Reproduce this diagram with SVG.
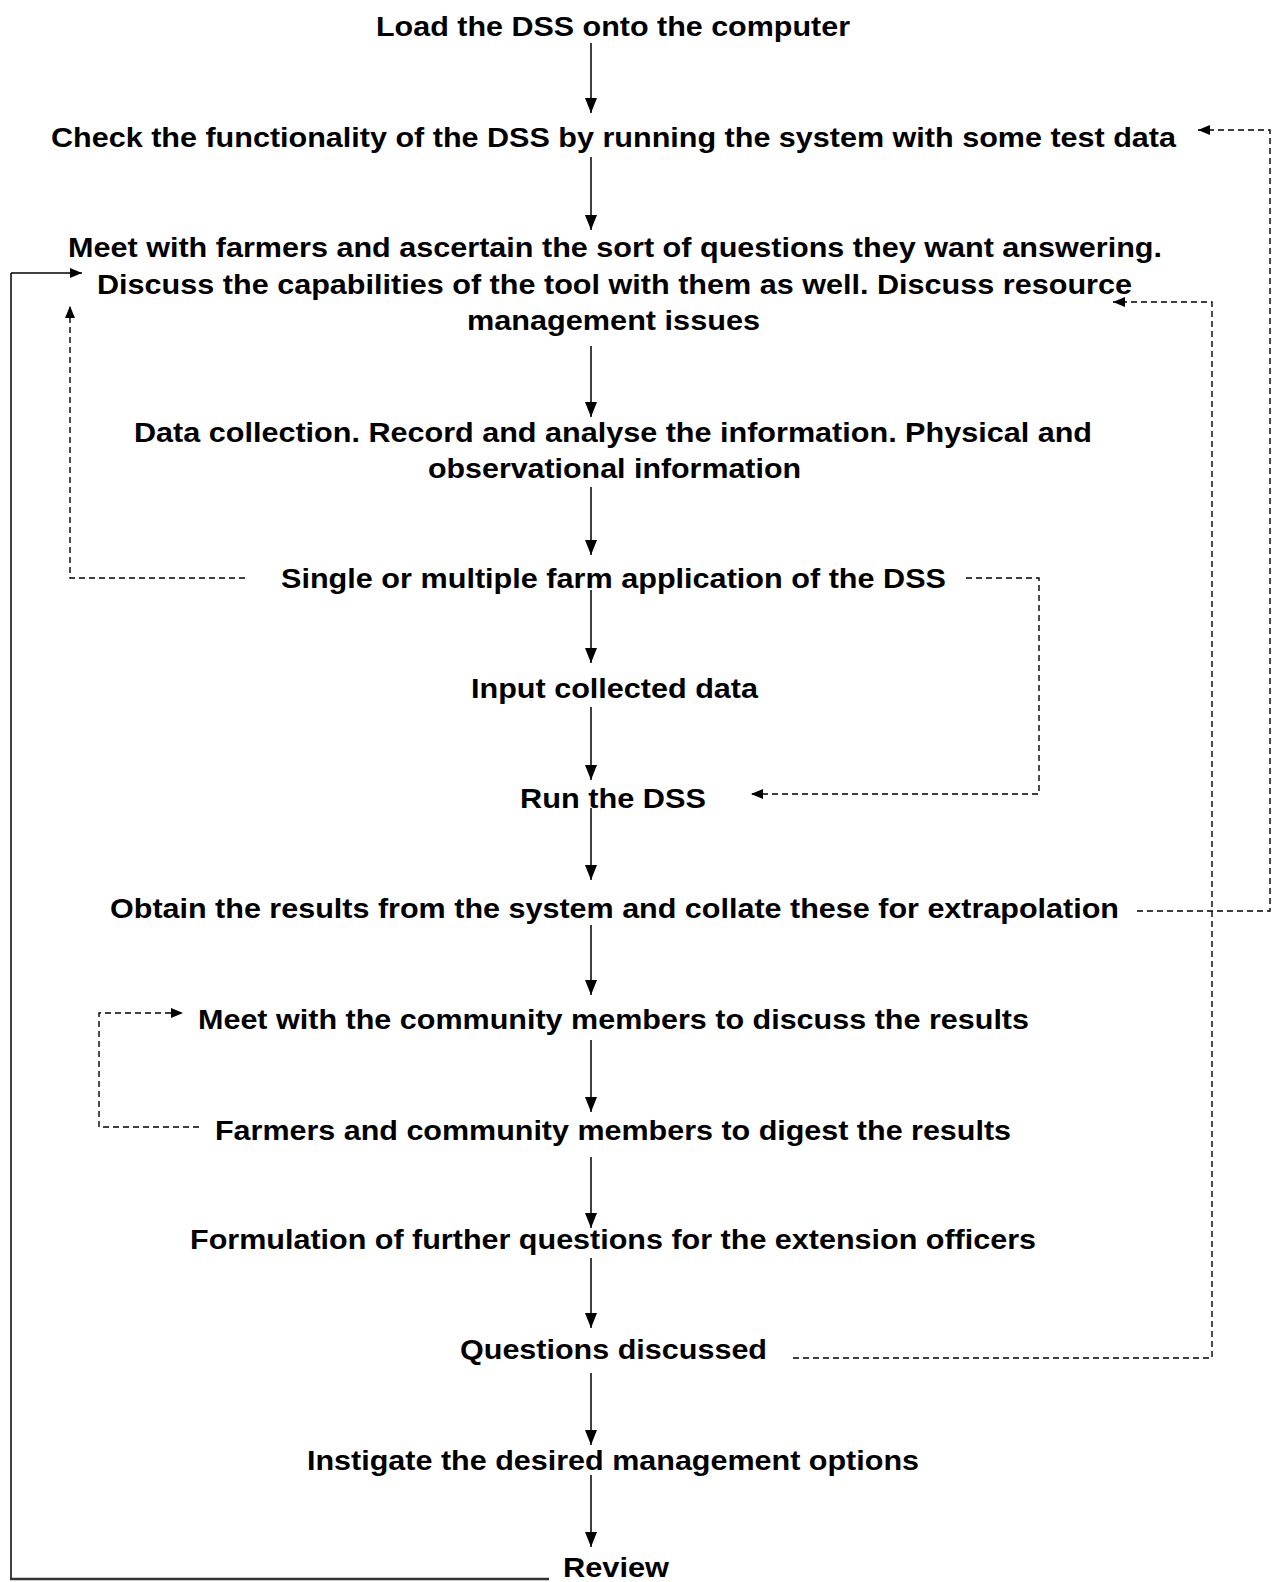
<svg xmlns="http://www.w3.org/2000/svg" width="1278" height="1582" viewBox="0 0 1278 1582">
<defs>
<style>
.t{font-family:"Liberation Sans",Arial,sans-serif;font-weight:bold;font-size:28px;fill:#000}
.s{fill:none;stroke:#000;stroke-width:1.5}
.d{fill:none;stroke:#000;stroke-width:1.4;stroke-dasharray:6,4}
</style>
<marker id="a" viewBox="0 0 15 12" markerWidth="15" markerHeight="12" refX="15" refY="6" orient="auto" markerUnits="userSpaceOnUse"><path d="M0,0 L15,6 L0,12 z" fill="#000"/></marker>
<marker id="b" viewBox="0 0 12 10" markerWidth="12" markerHeight="10" refX="12" refY="5" orient="auto" markerUnits="userSpaceOnUse"><path d="M0,0 L12,5 L0,10 z" fill="#000"/></marker>
</defs>
<rect width="1278" height="1582" fill="#fff"/>
<g id="n1"><text class="t" x="376" y="36" textLength="474" lengthAdjust="spacingAndGlyphs">Load the DSS onto the computer</text></g>
<g id="n2"><text class="t" x="51" y="147" textLength="1125" lengthAdjust="spacingAndGlyphs">Check the functionality of the DSS by running the system with some test data</text></g>
<g id="n3">
<text class="t" x="68" y="257" textLength="1094" lengthAdjust="spacingAndGlyphs">Meet with farmers and ascertain the sort of questions they want answering.</text>
<text class="t" x="97" y="294" textLength="1035" lengthAdjust="spacingAndGlyphs">Discuss the capabilities of the tool with them as well. Discuss resource</text>
<text class="t" x="467" y="330" textLength="293" lengthAdjust="spacingAndGlyphs">management issues</text>
</g>
<g id="n4">
<text class="t" x="134" y="442" textLength="958" lengthAdjust="spacingAndGlyphs">Data collection. Record and analyse the information. Physical and</text>
<text class="t" x="428" y="478" textLength="373" lengthAdjust="spacingAndGlyphs">observational information</text>
</g>
<g id="n5"><text class="t" x="281" y="588" textLength="665" lengthAdjust="spacingAndGlyphs">Single or multiple farm application of the DSS</text></g>
<g id="n6"><text class="t" x="471" y="698" textLength="287" lengthAdjust="spacingAndGlyphs">Input collected data</text></g>
<g id="n7"><text class="t" x="520" y="808" textLength="186" lengthAdjust="spacingAndGlyphs">Run the DSS</text></g>
<g id="n8"><text class="t" x="110" y="918" textLength="1009" lengthAdjust="spacingAndGlyphs">Obtain the results from the system and collate these for extrapolation</text></g>
<g id="n9"><text class="t" x="198" y="1029" textLength="831" lengthAdjust="spacingAndGlyphs">Meet with the community members to discuss the results</text></g>
<g id="n10"><text class="t" x="215" y="1140" textLength="796" lengthAdjust="spacingAndGlyphs">Farmers and community members to digest the results</text></g>
<g id="n11"><text class="t" x="190" y="1249" textLength="846" lengthAdjust="spacingAndGlyphs">Formulation of further questions for the extension officers</text></g>
<g id="n12"><text class="t" x="460" y="1359" textLength="307" lengthAdjust="spacingAndGlyphs">Questions discussed</text></g>
<g id="n13"><text class="t" x="307" y="1470" textLength="612" lengthAdjust="spacingAndGlyphs">Instigate the desired management options</text></g>
<g id="n14"><text class="t" x="563" y="1577" textLength="106" lengthAdjust="spacingAndGlyphs">Review</text></g>
<g id="connectors">
<path class="s" marker-end="url(#a)" d="M591,43 V113"/>
<path class="s" marker-end="url(#a)" d="M591,157 V230"/>
<path class="s" marker-end="url(#a)" d="M591,346 V417"/>
<path class="s" marker-end="url(#a)" d="M591,487 V555"/>
<path class="s" marker-end="url(#a)" d="M591,590 V663"/>
<path class="s" marker-end="url(#a)" d="M591,707 V780"/>
<path class="s" marker-end="url(#a)" d="M591,808 V880"/>
<path class="s" marker-end="url(#a)" d="M591,925 V995"/>
<path class="s" marker-end="url(#a)" d="M591,1040 V1112"/>
<path class="s" marker-end="url(#a)" d="M591,1157 V1228"/>
<path class="s" marker-end="url(#a)" d="M591,1258 V1328"/>
<path class="s" marker-end="url(#a)" d="M591,1373 V1445"/>
<path class="s" marker-end="url(#a)" d="M591,1475 V1547"/>
<path class="d" marker-end="url(#b)" d="M1137,911 H1270 V130 H1198"/>
<path class="d" marker-end="url(#b)" d="M793,1358 H1212 V302 H1113"/>
<path class="d" marker-end="url(#b)" d="M245,578 H70 V306"/>
<path class="d" marker-end="url(#b)" d="M966,578 H1039 V794 H751"/>
<path class="d" marker-end="url(#b)" d="M199,1127 H99 V1013 H183"/>
<path class="s" marker-end="url(#b)" d="M11,273 H82"/>
<path fill="none" stroke="#000" stroke-width="1.5" d="M11,1579 V273"/>
<path fill="none" stroke="#333" stroke-width="2.5" d="M10,1579 H549"/>
</g>
</svg>
